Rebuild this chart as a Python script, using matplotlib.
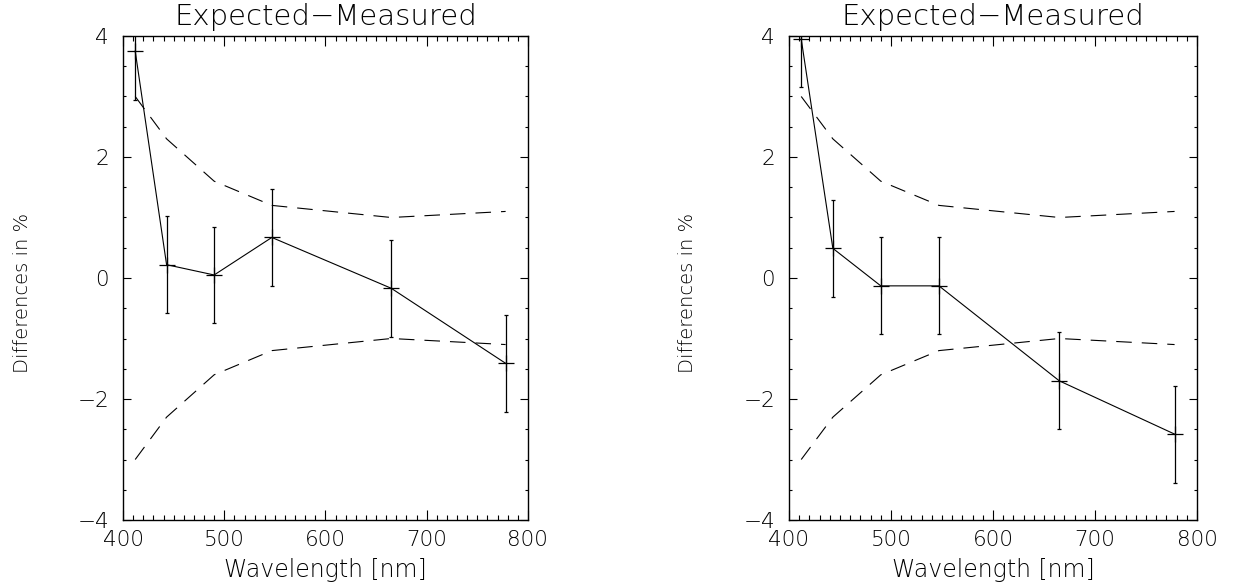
import matplotlib

matplotlib.use("Agg")
import matplotlib.pyplot as plt
from matplotlib.ticker import MultipleLocator

# wavelengths of the bands (nm)
wavelength = [412, 443, 490, 547, 665, 778]

# expected - measured differences (%) for the two cases
diff_left = [3.75, 0.22, 0.05, 0.67, -0.17, -1.41]
diff_right = [3.95, 0.49, -0.13, -0.13, -1.70, -2.58]
err_left = [0.8, 0.8, 0.8, 0.8, 0.8, 0.8]
err_right = [0.8, 0.8, 0.8, 0.8, 0.8, 0.8]

# tolerance envelope (dashed)
envelope = [3.0, 2.3, 1.6, 1.2, 1.0, 1.1]

title = "Expected\u2212Measured"
xlabel = "Wavelength [nm]"
ylabel = "Differences in %"

plt.rcParams["font.family"] = ["DejaVu Sans"]
plt.rcParams["font.weight"] = "light"
plt.rcParams["axes.titleweight"] = "light"
plt.rcParams["axes.labelweight"] = "light"

fig = plt.figure(figsize=(12.38, 5.86), dpi=100)
ax_left = fig.add_axes([0.0994, 0.1126, 0.327, 0.826])
ax_right = fig.add_axes([0.6373, 0.1126, 0.3296, 0.826])


def draw_panel(ax, values, errors):
    ax.plot(wavelength, values, color="black", linewidth=0.8)
    ax.errorbar(
        wavelength, values, yerr=errors, fmt="none", ecolor="black",
        elinewidth=0.9, capsize=1.5, capthick=0.9,
    )
    ax.plot(wavelength, values, linestyle="none", marker="+", markersize=12,
            markeredgewidth=0.9, color="black")
    upper = envelope
    lower = [-v for v in envelope]
    ax.plot(wavelength, upper, color="black", linewidth=0.8, linestyle=(0, (14, 9)))
    ax.plot(wavelength, lower, color="black", linewidth=0.8, linestyle=(0, (14, 9)))

    ax.set_xlim(400, 800)
    ax.set_ylim(-4, 4)
    ax.xaxis.set_major_locator(MultipleLocator(100))
    ax.xaxis.set_minor_locator(MultipleLocator(10))
    ax.yaxis.set_major_locator(MultipleLocator(2))
    ax.yaxis.set_minor_locator(MultipleLocator(0.5))

    ax.tick_params(axis="both", which="both", direction="in", top=True, right=True,
                   width=0.8, colors="black")
    ax.tick_params(axis="x", which="major", length=7, pad=7, labelsize=15.5)
    ax.tick_params(axis="x", which="minor", length=3.5)
    ax.tick_params(axis="y", which="major", length=6, pad=10, labelsize=15.5)
    ax.tick_params(axis="y", which="minor", length=2.5)
    for spine in ax.spines.values():
        spine.set_linewidth(1.0)

    ax.set_title(title, fontsize=21, pad=8)
    ax.set_xlabel(xlabel, fontsize=17, labelpad=6)
    ax.set_ylabel(ylabel, fontsize=14)
    ax.yaxis.set_label_coords(-0.225, 0.47)


draw_panel(ax_left, diff_left, err_left)
draw_panel(ax_right, diff_right, err_right)

fig.savefig("out.png", dpi=100)
plt.close(fig)
